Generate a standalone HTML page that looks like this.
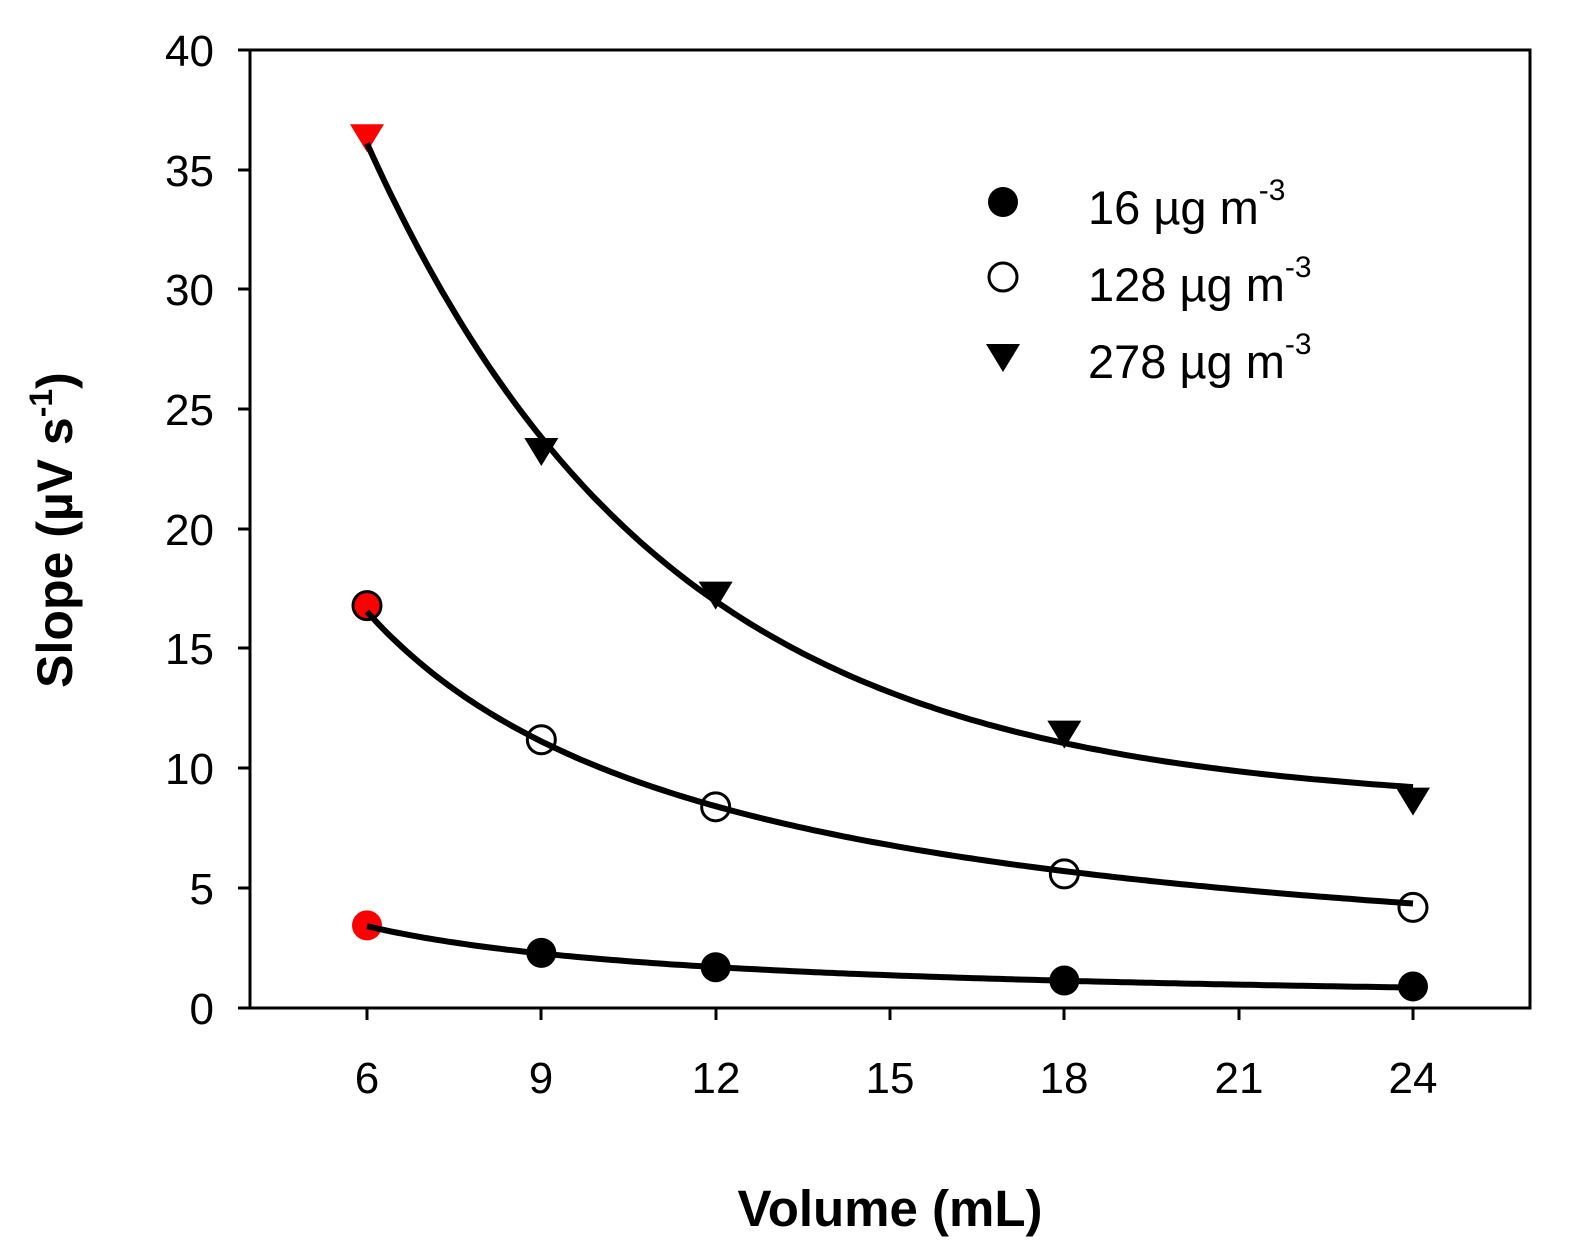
<!DOCTYPE html>
<html><head><meta charset="utf-8"><style>
html,body{margin:0;padding:0;background:#fff}
svg{display:block}
text{font-family:"Liberation Sans",Arial,sans-serif;fill:#000}
</style></head><body>
<svg id="s" width="1569" height="1258" viewBox="0 0 1569 1258" xmlns="http://www.w3.org/2000/svg">
<rect x="250" y="50" width="1280" height="958" fill="none" stroke="#000" stroke-width="3"/>
<g stroke="#000" stroke-width="3">
<line x1="238" y1="50" x2="250" y2="50"/><line x1="238" y1="170" x2="250" y2="170"/>
<line x1="238" y1="289" x2="250" y2="289"/><line x1="238" y1="409" x2="250" y2="409"/>
<line x1="238" y1="529" x2="250" y2="529"/><line x1="238" y1="648" x2="250" y2="648"/>
<line x1="238" y1="768" x2="250" y2="768"/><line x1="238" y1="888" x2="250" y2="888"/>
<line x1="238" y1="1008" x2="250" y2="1008"/>
<line x1="367" y1="1008" x2="367" y2="1020"/><line x1="541" y1="1008" x2="541" y2="1020"/>
<line x1="716" y1="1008" x2="716" y2="1020"/><line x1="890" y1="1008" x2="890" y2="1020"/>
<line x1="1064" y1="1008" x2="1064" y2="1020"/><line x1="1239" y1="1008" x2="1239" y2="1020"/>
<line x1="1413" y1="1008" x2="1413" y2="1020"/>
</g>
<g font-size="44" text-anchor="end">
<text x="214" y="66">40</text><text x="214" y="186">35</text><text x="214" y="305">30</text>
<text x="214" y="425">25</text><text x="214" y="545">20</text><text x="214" y="664">15</text>
<text x="214" y="784">10</text><text x="214" y="904">5</text><text x="214" y="1024">0</text>
</g>
<g font-size="44" text-anchor="middle">
<text x="367" y="1093">6</text><text x="541" y="1093">9</text><text x="716" y="1093">12</text>
<text x="890" y="1093">15</text><text x="1064" y="1093">18</text><text x="1239" y="1093">21</text>
<text x="1413" y="1093">24</text>
</g>
<text x="890" y="1226" font-size="51" font-weight="bold" text-anchor="middle">Volume (mL)</text>
<text transform="translate(72,530) rotate(-90)" font-size="50" font-weight="bold" text-anchor="middle">Slope (µV s<tspan font-size="32" dy="-20">-1</tspan><tspan dy="20">)</tspan></text>
<g id="marks"></g>
<g id="curves" fill="none" stroke="#000" stroke-width="6"></g>
<circle cx="1003" cy="202" r="15" fill="#000"/>
<circle cx="1003" cy="277" r="14" fill="#fff" stroke="#000" stroke-width="3"/>
<path d="M986,344 L1020,344 L1003,372 Z" fill="#000"/>
<g font-size="47">
<text x="1088" y="224">16 µg m<tspan font-size="30" dy="-24">-3</tspan></text>
<text x="1088" y="301">128 µg m<tspan font-size="30" dy="-24">-3</tspan></text>
<text x="1088" y="378">278 µg m<tspan font-size="30" dy="-24">-3</tspan></text>
</g>
</svg>
<script>
var X=function(v){return 367+(v-6)*58.11},Y=function(v){return 1008-v*23.95};
var fs=[function(x){return 8.4+27.7*Math.exp(-0.1952*(x-6))},function(x){return 0.3+97.5/x},function(x){return 20.5/x}];
var c=document.getElementById('curves'),ns='http://www.w3.org/2000/svg';
fs.forEach(function(f){var d='';for(var x=6;x<=24.001;x+=0.1){d+=(d?'L':'M')+X(x).toFixed(1)+','+Y(f(x)).toFixed(1)}var p=document.createElementNS(ns,'path');p.setAttribute('d',d);c.appendChild(p)});
var m=document.getElementById('marks');
function circ(x,y,fill,stroke){var e=document.createElementNS(ns,'circle');e.setAttribute('cx',X(x));e.setAttribute('cy',Y(y));e.setAttribute('r',stroke?14:15);e.setAttribute('fill',fill);if(stroke){e.setAttribute('stroke','#000');e.setAttribute('stroke-width',3)}m.appendChild(e)}
function tri(x,y,fill){var cx=X(x),cy=Y(y);var e=document.createElementNS(ns,'path');e.setAttribute('d','M'+(cx-17)+','+(cy-12)+'L'+(cx+17)+','+(cy-12)+'L'+cx+','+(cy+16)+'Z');e.setAttribute('fill',fill);m.insertBefore(e,m.firstChild)}
[[9,2.3],[12,1.7],[18,1.15],[24,0.9]].forEach(function(p){circ(p[0],p[1],'#000')});circ(6,3.45,'#f00');
[[9,11.2],[12,8.4],[18,5.6],[24,4.2]].forEach(function(p){circ(p[0],p[1],'#fff',1)});circ(6,16.8,'#f00',1);
[[9,23.3],[12,17.3],[18,11.5],[24,8.7]].forEach(function(p){tri(p[0],p[1],'#000')});tri(6,36.4,'#f00');
</script>
</body></html>
